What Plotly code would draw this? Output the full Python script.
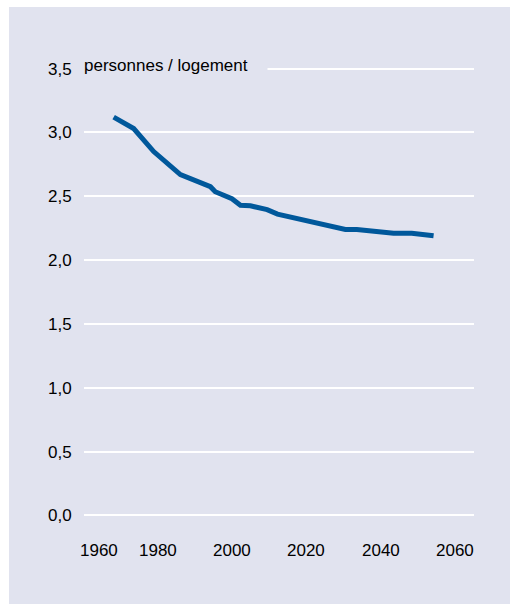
import plotly.graph_objects as go

# Data
years = [1968, 1973.4, 1978.8, 1986, 1994.1, 1995.4, 1999.9, 2002.2, 2004.9,
         2009.4, 2012.2, 2030.5, 2033.6, 2043.5, 2048.4, 2054.3]
persons_per_dwelling = [3.12, 3.03, 2.85, 2.67, 2.575, 2.535, 2.48, 2.43, 2.425,
                        2.395, 2.36, 2.24, 2.24, 2.21, 2.21, 2.19]

y_tick_vals = [0, 0.5, 1.0, 1.5, 2.0, 2.5, 3.0, 3.5]
y_tick_text = ["0,0", "0,5", "1,0", "1,5", "2,0", "2,5", "3,0", "3,5"]
x_tick_vals = [1960, 1980, 2000, 2020, 2040, 2060]
x_tick_text = ["1960", "1980", "2000", "2020", "2040", "2060"]
unit_label = "personnes / logement"

BG = "#E1E3EF"
LINE = "#00589B"
FONT = "Liberation Sans, Arial, sans-serif"

fig = go.Figure()
fig.add_trace(go.Scatter(
    x=years, y=persons_per_dwelling, mode="lines",
    line=dict(color=LINE, width=5), hoverinfo="skip", showlegend=False,
))

W, H = 510, 604
ml, mr, mt, mb = 84, 36, 66, 86
pw, ph = W - ml - mr, H - mt - mb

# lavender panel (starts at x=9, y=7 in the picture)
fig.add_shape(type="rect", xref="paper", yref="paper", layer="below",
              x0=(9 - ml) / pw, x1=(W - ml) / pw + 0.01,
              y0=-(mb + 5) / ph, y1=1 + (mt - 7) / ph,
              fillcolor=BG, line=dict(width=0))

# x tick labels as annotations (the 1960 label is offset to the right)
for v, t in zip(x_tick_vals, x_tick_text):
    fig.add_annotation(x=v, y=0, xref="x", yref="y", text=t,
                       showarrow=False, xanchor="center", yanchor="middle",
                       yshift=-35, xshift=15 if v == 1960 else 0,
                       font=dict(family=FONT, size=17, color="#000000"))

# unit label covering the start of the top gridline
fig.add_annotation(x=0, y=3.5, xref="paper", yref="y",
                   text=unit_label + "\u00a0" * 4,
                   showarrow=False, xanchor="left", yanchor="middle",
                   xshift=-2, yshift=3, bgcolor=BG, borderpad=1,
                   font=dict(family=FONT, size=17, color="#000000"))

fig.update_xaxes(range=[1960, 2065.2], showgrid=False, zeroline=False,
                 showline=False, showticklabels=False, ticks="",
                 fixedrange=True)
fig.update_yaxes(range=[-0.02, 3.52], tickvals=y_tick_vals, ticktext=y_tick_text,
                 showgrid=True, gridcolor="#FFFFFF", gridwidth=1.5,
                 zeroline=False, showline=False, ticks="outside", ticklen=8,
                 tickcolor="rgba(0,0,0,0)",
                 tickfont=dict(family=FONT, size=17, color="#000000"),
                 fixedrange=True)

fig.update_layout(
    width=W, height=H,
    margin=dict(l=ml, r=mr, t=mt, b=mb),
    paper_bgcolor="#FFFFFF", plot_bgcolor="rgba(0,0,0,0)",
    font=dict(family=FONT, size=17, color="#000000"),
    showlegend=False,
)

fig.write_html("out.html", config={"displayModeBar": False},
               post_script="document.body.style.margin='0';document.body.style.overflow='hidden';")
